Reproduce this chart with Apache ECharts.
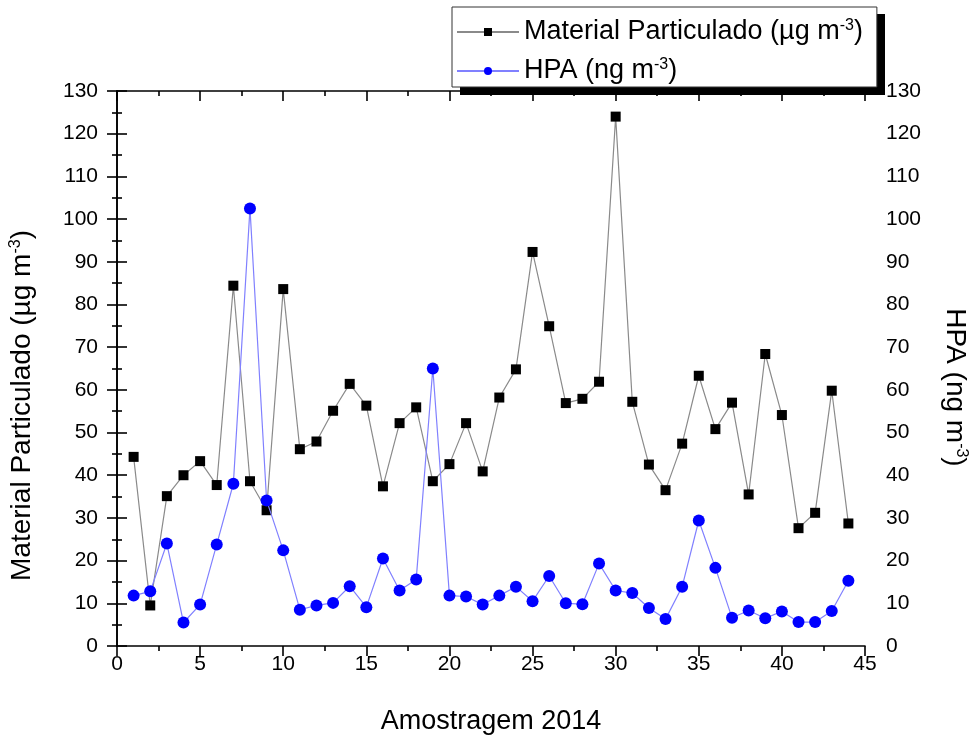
<!DOCTYPE html>
<html>
<head>
<meta charset="utf-8">
<script src="https://cdn.jsdelivr.net/npm/echarts@6/dist/echarts.min.js"></script>
<style>html,body{margin:0;padding:0;background:#fff;overflow:hidden}#c{width:977px;height:740px}</style>
</head>
<body>
<div id="c"></div>
<script>
// Data
var samples = [1,2,3,4,5,6,7,8,9,10,11,12,13,14,15,16,17,18,19,20,21,22,23,24,25,26,27,28,29,30,31,32,33,34,35,36,37,38,39,40,41,42,43,44];
var materialParticulado = [44.3, 9.5, 35.1, 40.0, 43.3, 37.7, 84.4, 38.6, 31.8, 83.6, 46.1, 47.9, 55.1, 61.4, 56.3, 37.4, 52.2, 55.9, 38.6, 42.6, 52.2, 40.9, 58.2, 64.8, 92.3, 74.9, 56.9, 57.9, 61.9, 124.0, 57.2, 42.5, 36.5, 47.4, 63.3, 50.8, 57.0, 35.5, 68.4, 54.1, 27.6, 31.2, 59.8, 28.7];
var hpa = [11.8, 12.8, 24.0, 5.5, 9.7, 23.8, 38.0, 102.5, 34.1, 22.4, 8.5, 9.5, 10.1, 14.0, 9.1, 20.5, 13.0, 15.6, 65.0, 11.8, 11.6, 9.7, 11.8, 13.9, 10.5, 16.4, 10.0, 9.8, 19.3, 13.0, 12.4, 8.9, 6.3, 13.9, 29.4, 18.3, 6.6, 8.3, 6.5, 8.1, 5.6, 5.6, 8.2, 15.3];
var xTicks = {min: 0, max: 45, interval: 5};
var yTicks = {min: 0, max: 130, interval: 10};
var nameMP = 'Material Particulado (µg m-3)';
var nameHPA = 'HPA (ng m-3)';

var FONT = '"Liberation Sans", Arial, sans-serif';
var chart = echarts.init(document.getElementById('c'), null, {renderer: 'canvas'});

function pairs(vals) { return samples.map(function (s, i) { return [s, vals[i]]; }); }

var axisLineStyle = {color: '#000', width: 1.6};
function yAxis(pos, nameText, rot, pad, gap, fs, margin) {
  return {
    type: 'value', position: pos, min: yTicks.min, max: yTicks.max, interval: yTicks.interval,
    axisLine: {show: true, lineStyle: axisLineStyle},
    axisTick: {show: true, inside: false, length: 10, lineStyle: axisLineStyle},
    minorTick: {show: true, splitNumber: 2, length: 5, lineStyle: axisLineStyle},
    splitLine: {show: false},
    axisLabel: {fontSize: 21, color: '#000', margin: margin, fontFamily: FONT},
    name: nameText, nameLocation: 'middle', nameGap: gap, nameRotate: rot,
    nameTextStyle: {
      fontSize: fs, color: '#000', fontFamily: FONT, padding: pad,
      rich: {sup: {fontSize: 16, fontFamily: FONT, color: '#000', padding: [0, 0, 13, 0]}}
    }
  };
}

var option = {
  backgroundColor: '#fff',
  animation: false,
  grid: {left: 117, right: 104, top: 91, bottom: 91, containLabel: false},
  graphic: [{
    type: 'rect', left: 460, top: 14, z: 90,
    shape: {width: 425, height: 81},
    style: {fill: '#000'}
  }],
  legend: {
    orient: 'vertical', left: 452, top: 7, width: 420, z: 100,
    backgroundColor: '#fff', borderColor: '#333', borderWidth: 1,
    padding: [9, 14, 0, 4], itemGap: 7, itemWidth: 62, itemHeight: 10,
    textStyle: {
      fontSize: 27, color: '#000', fontFamily: FONT, lineHeight: 32,
      rich: {sup: {fontSize: 16, fontFamily: FONT, color: '#000', padding: [0, 0, 13, 0]}}
    },
    formatter: function (n) { return n.replace('m-3)', 'm{sup|-3})'); },
    data: [nameMP, nameHPA]
  },
  xAxis: [{
    type: 'value', position: 'bottom', min: xTicks.min, max: xTicks.max, interval: xTicks.interval,
    axisLine: {show: true, onZero: false, lineStyle: axisLineStyle},
    axisTick: {show: true, inside: false, length: 10, lineStyle: axisLineStyle},
    minorTick: {show: true, splitNumber: 2, length: 5, lineStyle: axisLineStyle},
    splitLine: {show: false},
    axisLabel: {fontSize: 21, color: '#000', margin: 8, fontFamily: FONT},
    name: 'Amostragem 2014', nameLocation: 'middle', nameGap: 62,
    nameTextStyle: {fontSize: 27, color: '#000', fontFamily: FONT}
  }, {
    type: 'value', position: 'top', min: xTicks.min, max: xTicks.max, interval: xTicks.interval,
    axisLine: {show: true, onZero: false, lineStyle: axisLineStyle},
    axisTick: {show: true, inside: true, length: 10, lineStyle: axisLineStyle},
    minorTick: {show: true, splitNumber: 2, length: 5, lineStyle: axisLineStyle},
    splitLine: {show: false},
    axisLabel: {show: false}
  }],
  yAxis: [
    yAxis('left', 'Material Particulado (µg m{sup|-3})', 90, [0, 74, 0, 0], 80, 28, 19),
    yAxis('right', 'HPA (ng m{sup|-3})', -90, [0, 0, 0, 38], 75, 28, 21)
  ],
  series: [{
    name: nameMP, type: 'line', xAxisIndex: 0, yAxisIndex: 0,
    data: pairs(materialParticulado),
    symbol: 'rect', symbolSize: 10,
    itemStyle: {color: '#000'},
    lineStyle: {color: '#8a8a8a', width: 1.2},
    z: 2
  }, {
    name: nameHPA, type: 'line', xAxisIndex: 0, yAxisIndex: 1,
    data: pairs(hpa),
    symbol: 'circle', symbolSize: 12,
    itemStyle: {color: '#0000ff'},
    lineStyle: {color: '#8080ff', width: 1.2},
    z: 3
  }]
};
chart.setOption(option);
</script>
</body>
</html>
